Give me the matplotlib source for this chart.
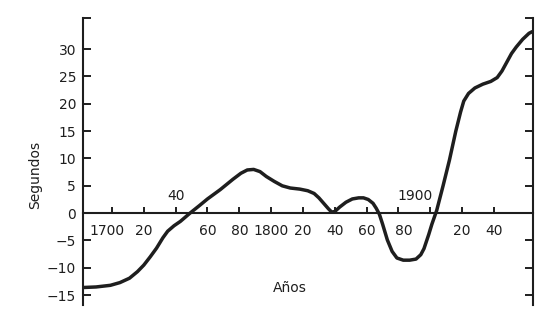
"""
plot.py

Redraws the 'Segundos' vs 'Años' curve from the scanned figure.
"""
import matplotlib

matplotlib.use("Agg")
import matplotlib.pyplot as plt

# ----- data -----
years = [
    1682, 1690, 1699, 1705, 1711, 1716, 1720, 1724, 1728, 1732,
    1735, 1739, 1743, 1749, 1755, 1760, 1768, 1776, 1781, 1785,
    1789, 1793, 1797, 1802, 1807, 1812, 1818, 1823, 1827, 1830,
    1833, 1836, 1838, 1840, 1843, 1847, 1851, 1855, 1858, 1861,
    1864, 1866, 1868, 1870, 1873, 1876, 1879, 1883, 1887, 1891,
    1894, 1896, 1899, 1901, 1904, 1908, 1912, 1916, 1919, 1921,
    1924, 1928, 1933, 1938, 1942, 1945, 1948, 1951, 1954, 1958,
    1962, 1964,
]
seconds = [
    -13.6, -13.5, -13.2, -12.7, -11.9, -10.7, -9.5, -8.0, -6.4, -4.5,
    -3.3, -2.3, -1.5, 0.0, 1.4, 2.6, 4.3, 6.2, 7.3, 7.9,
    8.0, 7.6, 6.7, 5.8, 5.0, 4.6, 4.4, 4.1, 3.6, 2.8,
    1.8, 0.8, 0.2, 0.3, 1.1, 2.0, 2.6, 2.8, 2.8, 2.5,
    1.8, 0.9, -0.2, -2.0, -4.9, -7.0, -8.2, -8.6, -8.6, -8.4,
    -7.6, -6.5, -3.9, -2.0, 0.5, 5.0, 9.7, 15.0, 18.5, 20.5,
    21.9, 22.9, 23.6, 24.1, 24.8, 26.0, 27.6, 29.2, 30.4, 31.8,
    32.9, 33.2,
]

x_ticks = [1700, 1720, 1740, 1760, 1780, 1800, 1820, 1840, 1860, 1880, 1900, 1920, 1940]
x_tick_labels = ["1700", "20", "40", "60", "80", "1800", "20", "40", "60", "80", "1900", "20", "40"]
x_labels_above = {1740, 1900}

y_ticks = [-15, -10, -5, 0, 5, 10, 15, 20, 25, 30]
y_tick_labels = ["−15", "−10", "−5", "0", "5", "10", "15", "20", "25", "30"]

# small horizontal nudges (pixels) for labels that dodge the curve
label_nudge = {1700: -5, 1880: 5, 1900: -15}

INK = "#1e1e1e"
plt.rcParams["font.family"] = ["DejaVu Sans"]
plt.rcParams["font.size"] = 10

fig = plt.figure(figsize=(5.5, 3.21), dpi=100)
ax = fig.add_axes([83 / 550, 16 / 321, 450 / 550, 287 / 321])

ax.plot(years, seconds, color=INK, lw=2.5, solid_capstyle="round", solid_joinstyle="round")

ax.set_xlim(1681.8, 1964.5)
ax.set_ylim(-16.8, 35.7)

# spines: left and right frame, x axis sits on zero
ax.spines["top"].set_visible(False)
ax.spines["bottom"].set_position(("data", 0))
for side in ("left", "right", "bottom"):
    ax.spines[side].set_linewidth(1.5)
    ax.spines[side].set_color(INK)

# y ticks on both sides, pointing in, with a cap at the top
ax.set_yticks(y_ticks + [35.7], y_tick_labels + [""])
ax.tick_params(axis="y", which="both", direction="in", length=6, width=1.4,
               colors=INK, left=True, right=True, pad=5, labelsize=10)

# x ticks upward from the zero line, labels drawn by hand
ax.set_xticks(x_ticks)
ax.set_xticklabels([])
ax.tick_params(axis="x", direction="in", length=4.5, width=1.4, colors=INK)

for year, text in zip(x_ticks, x_tick_labels):
    above = year in x_labels_above
    dx = label_nudge.get(year, 0) * 0.72
    dy = 12 if above else -13
    ax.annotate(text, xy=(year, 0), xytext=(dx, dy), textcoords="offset points",
                ha="center", va="center", color=INK, fontsize=10)

ax.set_xlabel("Años", color=INK, fontsize=10)
ax.xaxis.set_label_coords(0.46, 0.085)
ax.set_ylabel("Segundos", color=INK, fontsize=10)
ax.yaxis.set_label_coords(-0.091, 0.453)

fig.savefig("out.png", dpi=100, facecolor="white")
